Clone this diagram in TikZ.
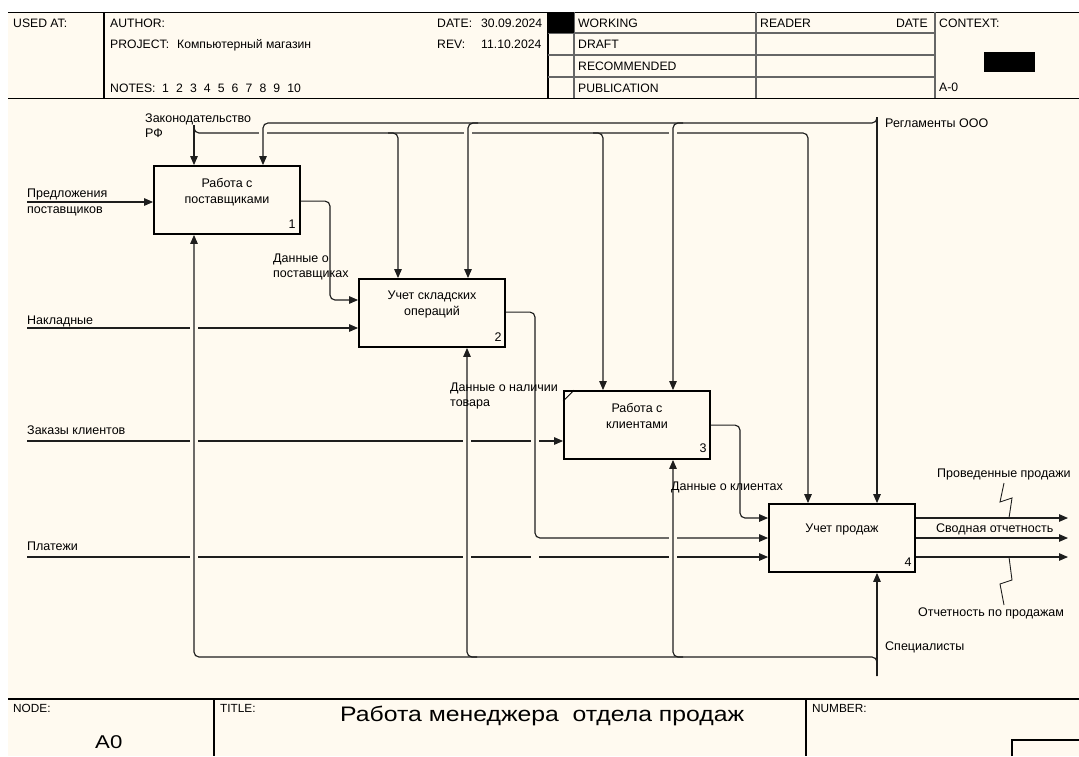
\documentclass[tikz,border=0pt]{standalone}
\usepackage{fontspec}
\setmainfont{Liberation Sans}
\usepackage{graphicx}
\usetikzlibrary{arrows.meta,calc}
\definecolor{bg}{RGB}{255,250,240}
\definecolor{ln}{RGB}{30,30,30}
\begin{document}
\begin{tikzpicture}[x=1pt,y=-1pt,
  every node/.style={font=\fontsize{12.5}{15}\selectfont, inner sep=0pt, text=black},
  hdr/.style={anchor=base west, font=\fontsize{12.2}{15}\selectfont},
  ftr/.style={anchor=base west, font=\fontsize{11.8}{15}\selectfont},
  box/.style={draw=black, line width=1.8pt, minimum width=146pt, minimum height=68pt, fill=bg},
  lbl/.style={anchor=base west},
  btxt/.style={anchor=base},
  wire/.style={draw=ln, line width=1.15pt, rounded corners=5pt},
  arr/.style={wire, -{Triangle[length=9pt,width=7.5pt]}},
  frame/.style={draw=black, line width=1.2pt},
  inner/.style={draw=black!60, line width=1.1pt},
  squig/.style={draw=ln, line width=0.9pt}
]
\useasboundingbox (0,0) rectangle (1079,756);
\fill[white] (0,0) rectangle (1079,756);
\fill[bg] (8,12) rectangle (1079,756);

% ---------- header ----------
\draw[frame] (8,12.3) -- (1079,12.3);
\draw[frame] (8,98.3) -- (1079,98.3);
\draw[frame] (104,12.3) -- (104,98.3);
\draw[frame] (548,12.3) -- (548,98.3);
\draw[inner] (574,12.3) -- (574,98.3);
\draw[inner] (756,12.3) -- (756,98.3);
\draw[inner] (935,12.3) -- (935,98.3);
\foreach \yy in {33,55,77} \draw[inner] (548,\yy) -- (935,\yy);
\fill[black] (548,12.3) rectangle (574,33);
\fill[black] (984,52) rectangle (1035,72);

\node[hdr] (usedat) at (13,27) {USED AT:};
\node[hdr] (author) at (110,27) {AUTHOR:};
\node[hdr] (project) at (110,48) {PROJECT:};
\node[hdr] (projectv) at (177,48) {Компьютерный магазин};
\node[hdr] (notes) at (110,92) {NOTES:};
\foreach \i in {1,...,10} \node[hdr] (n\i) at ({162+13.9*(\i-1)},92) {\i};
\node[hdr] (date) at (437,27) {DATE:};
\node[hdr] (datev) at (481,27) {30.09.2024};
\node[hdr] (rev) at (437,48) {REV:};
\node[hdr] (revv) at (481,48) {11.10.2024};
\node[hdr] (working) at (578,27) {WORKING};
\node[hdr] (draft) at (578,48.5) {DRAFT};
\node[hdr] (recom) at (578,70) {RECOMMENDED};
\node[hdr] (publ) at (578,92) {PUBLICATION};
\node[hdr] (reader) at (760,27) {READER};
\node[hdr, anchor=base east] (rdate) at (928,27) {DATE};
\node[hdr] (context) at (939,27) {CONTEXT:};
\node[hdr] (ctxa) at (939,91) {A-0};

% ---------- bottom frame ----------
\draw[frame] (8,699) -- (1079,699);
\draw[frame] (214,699) -- (214,756);
\draw[frame] (806,699) -- (806,756);
\draw[frame] (1012,756) -- (1012,740) -- (1079,740);
\node[ftr] (nodel) at (13,712) {NODE:};
\node[ftr] (titlel) at (220,712) {TITLE:};
\node[ftr] (numberl) at (812,712) {NUMBER:};
\node[lbl] (a0) at (95,748) {\fontsize{18.5}{20}\selectfont\scalebox{1.2}[1]{A0}};
\node[lbl] (title) at (340,721) {\fontsize{21}{24}\selectfont\scalebox{1.18}[1]{Работа менеджера\ \ отдела продаж}};

% ---------- boxes ----------
\node[box] (b1) at (227,200) {};
\node[box] (b2) at (432,313) {};
\node[box] (b3) at (637,425) {};
\node[box] (b4) at (842,538) {};
\draw[line width=1pt] ($(b3.north west)+(0,11)$) -- ($(b3.north west)+(11,0)$);

\node[btxt] (b1t1) at (227,187) {Работа с};
\node[btxt] (b1t2) at (227,203) {поставщиками};
\node[btxt] (b1n) at (292,228) {1};
\node[btxt] (b2t1) at (432,299) {Учет складских};
\node[btxt] (b2t2) at (432,315) {операций};
\node[btxt] (b2n) at (498,341) {2};
\node[btxt] (b3t1) at (637,412.5) {Работа с};
\node[btxt] (b3t2) at (637,428.5) {клиентами};
\node[btxt] (b3n) at (703,452) {3};
\node[btxt] (b4t1) at (842,532) {Учет продаж};
\node[btxt] (b4n) at (908,566) {4};

% ---------- coordinates ----------
\coordinate (zakS) at (194,125);
\coordinate (lc) at (808,133);
\coordinate (lb2s) at (388,133);
\coordinate (lb2) at (398,133);
\coordinate (lb3s) at (593,133);
\coordinate (lb3) at (603,133);
\coordinate (regS) at (877,117);
\coordinate (ub1) at (263,123);
\coordinate (ub2s) at (478,123);
\coordinate (ub2) at (468,123);
\coordinate (ub3s) at (683,123);
\coordinate (ub3) at (673,123);
\coordinate (spS) at (877,676);
\coordinate (mb1) at (194,657);
\coordinate (mb2s) at (477,657);
\coordinate (mb2) at (467,657);
\coordinate (mb3s) at (683,657);
\coordinate (mb3) at (673,657);
\coordinate (inP) at (27,202);
\coordinate (inN) at (27,328);
\coordinate (inZ) at (27,441);
\coordinate (inPl) at (27,557);
\coordinate (k1) at (330,300);
\coordinate (k2) at (535,538);
\coordinate (k3) at (740,518);
\coordinate (o1) at (1068,518);
\coordinate (o2) at (1068,538);
\coordinate (o3) at (1068,557);

% ---------- horizontal-first lines ----------
\draw[arr] (zakS) |- (lc) -- (lc |- b4.north);
\draw[arr] (inP) -- (inP -| b1.west);
\draw[arr] (inN) -- (inN -| b2.west);
\draw[arr] (inZ) -- (inZ -| b3.west);
\draw[arr] (inPl) -- (inPl -| b4.west);

% gaps at crossings
\foreach \gx/\gy in {263/133,468/133,673/133,194/328,194/441,467/441,535/441,194/557,467/557,535/557,673/557}
  \fill[bg] (\gx-4,\gy-2.2) rectangle (\gx+4,\gy+2.2);

\draw[arr] ($(b2.north east)+(0,34)$) -| (k2) -- (k2 -| b4.west);
\fill[bg] (669,535.8) rectangle (677,540.2);

% ---------- remaining connectors ----------
\draw[arr] (zakS) -- (zakS |- b1.north);
\draw[arr] (lb2s) -| (lb2 |- b2.north);
\draw[arr] (lb3s) -| (lb3 |- b3.north);
\draw[arr] (regS) -- (regS |- b4.north);
\draw[arr] (regS) |- (ub1) -- (ub1 |- b1.north);
\draw[arr] (ub2s) -| (ub2 |- b2.north);
\draw[arr] (ub3s) -| (ub3 |- b3.north);

\draw[arr] (spS) -- (spS |- b4.south);
\draw[arr] (spS) |- (mb1) -- (mb1 |- b1.south);
\draw[arr] (mb2s) -| (mb2 |- b2.south);
\draw[arr] (mb3s) -| (mb3 |- b3.south);

\draw[arr] ($(b1.north east)+(0,36)$) -| (k1) -- (k1 -| b2.west);
\draw[arr] ($(b3.north east)+(0,35)$) -| (k3) -- (k3 -| b4.west);

\draw[arr] (o1 -| b4.east) -- (o1);
\draw[arr] (o2 -| b4.east) -- (o2);
\draw[arr] (o3 -| b4.east) -- (o3);
\draw[squig] (1004,483) -- (1000,502) -- (1012,498) -- (1009,518);
\draw[squig] (1009,557) -- (1012,580) -- (1000,584) -- (1004,605);

% ---------- labels ----------
\node[lbl] (lzak1) at (145,122) {Законодательство};
\node[lbl] (lzak2) at (145,137) {РФ};
\node[lbl] (lreg) at (885,127) {Регламенты ООО};
\node[lbl] (lpr1) at (27,197) {Предложения};
\node[lbl] (lpr2) at (27,213) {поставщиков};
\node[lbl] (lnak) at (27,324) {Накладные};
\node[lbl] (lzk) at (27,434) {Заказы клиентов};
\node[lbl] (lpl) at (27,550) {Платежи};
\node[lbl] (ld1a) at (273,262) {Данные о};
\node[lbl] (ld1b) at (273,277) {поставщиках};
\node[lbl] (ld2a) at (450,391) {Данные о наличии};
\node[lbl] (ld2b) at (450,406) {товара};
\node[lbl] (ld3) at (671,490) {Данные о клиентах};
\node[lbl] (lo1) at (937,477) {Проведенные продажи};
\node[lbl] (lo2) at (936,532) {Сводная отчетность};
\node[lbl] (lo3) at (918,616) {Отчетность по продажам};
\node[lbl] (lsp) at (885,650) {Специалисты};
\end{tikzpicture}
\end{document}
